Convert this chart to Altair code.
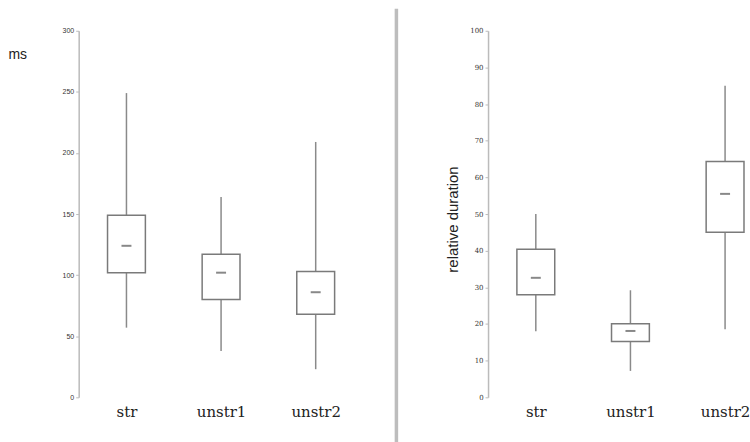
import altair as alt
import pandas as pd

categories = ["str", "unstr1", "unstr2"]

# left panel (ms)
ms_low = [57, 38, 23]
ms_q1 = [102, 80, 68]
ms_med = [124, 102, 86]
ms_q3 = [149, 117, 103]
ms_high = [249, 164, 209]

# right panel (relative duration)
rd_low = [18, 7.2, 18.6]
rd_q1 = [28, 15.2, 45]
rd_med = [32.6, 18.1, 55.5]
rd_q3 = [40.4, 20.1, 64.3]
rd_high = [50, 29.2, 85]

left_ticks = [0, 50, 100, 150, 200, 250, 300]
right_ticks = [0, 10, 20, 30, 40, 50, 60, 70, 80, 90, 100]

left_df = pd.DataFrame({"cat": categories, "low": ms_low, "q1": ms_q1,
                        "med": ms_med, "q3": ms_q3, "high": ms_high})
right_df = pd.DataFrame({"cat": categories, "low": rd_low, "q1": rd_q1,
                         "med": rd_med, "q3": rd_q3, "high": rd_high})

H = 368
SERIF = "DejaVu Serif"
SANS = "Liberation Sans"


def panel(df, width, pad, align, ymax, yaxis):
    x = alt.X("cat:N", sort=categories,
              scale=alt.Scale(type="point", padding=pad, align=align),
              axis=alt.Axis(title=None, labelAngle=0, domain=False, ticks=False,
                            labelFont=SERIF, labelFontSize=15,
                            labelColor="#222222", labelPadding=7))
    yscale = alt.Scale(domain=[0, ymax], nice=False, zero=True)
    base = alt.Chart(df)
    whisk = base.mark_rule(color="#8a8a8a", strokeWidth=1.5).encode(
        x=x, y=alt.Y("low:Q", scale=yscale, axis=yaxis), y2="high:Q")
    box = base.mark_bar(size=38, fill="white", stroke="#7a7a7a", strokeWidth=1.5).encode(
        x=x, y=alt.Y("q1:Q", scale=yscale, axis=yaxis), y2="q3:Q")
    med = base.mark_tick(size=10, thickness=2, color="#555555").encode(
        x=x, y=alt.Y("med:Q", scale=yscale, axis=yaxis))
    return alt.layer(whisk, box, med).properties(width=width, height=H)


left_axis = alt.Axis(values=left_ticks, grid=False, labelOverlap=False,
                     domainColor="#bbbbbb", domainWidth=1.5,
                     tickColor="#bbbbbb", tickSize=3,
                     labelFont=SANS, labelFontSize=7, labelColor="#333333",
                     labelPadding=2,
                     title="ms", titleAngle=0, titleAlign="left", titleBaseline="middle",
                     titleX=-71, titleY=24, titleFont=SANS,
                     titleFontSize=14, titleFontWeight="normal", titleColor="#222222")

right_axis = alt.Axis(values=right_ticks, grid=False, labelOverlap=False,
                      domainColor="#bbbbbb", domainWidth=1.5,
                      tickColor="#bbbbbb", tickSize=3,
                      labelFont=SERIF, labelFontSize=7, labelColor="#333333",
                      labelPadding=2,
                      title="relative duration", titleAngle=270, titleAlign="center",
                      titleBaseline="middle", titleX=-36, titleY=189,
                      titleFont=SANS, titleFontSize=15,
                      titleFontWeight="normal", titleColor="#222222")

left = panel(left_df, 300, 0.579, 0.436, 300, left_axis)
right_core = panel(right_df, 255, 0.342, 0.738, 100, right_axis)

sep = alt.Chart(pd.DataFrame({"a": [0]})).mark_rule(color="#bdbdbd", strokeWidth=3.5).encode(
    x=alt.value(-92), y=alt.value(-22), y2=alt.value(414))

right = alt.layer(right_core, sep).properties(width=255, height=H)

chart = alt.hconcat(left, right, spacing=111, bounds="flush").properties(
    padding={"left": 8, "top": 6, "right": 0, "bottom": 0},
    background="white",
).configure_view(
    strokeWidth=0, stroke="transparent"
).configure_axisX(
    labelFont=SERIF, labelFontSize=15
)

chart.save("out.html", embed_options={"renderer": "svg", "actions": False})
